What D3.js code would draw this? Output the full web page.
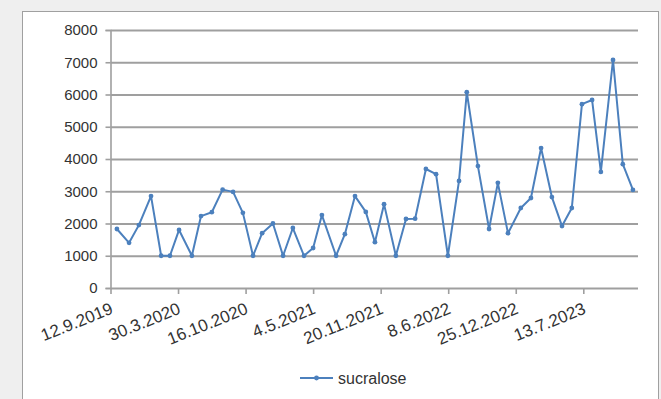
<!DOCTYPE html>
<html>
<head>
<meta charset="utf-8">
<script src="https://cdn.jsdelivr.net/npm/d3@7"></script>
<style>
  html, body { margin: 0; padding: 0; background: #efefef; }
  svg { display: block; }
</style>
</head>
<body>
<svg id="chart" width="661" height="399"></svg>
<script>
// Sampling dates (ISO) and measured sucralose levels
const sampleDates = [
  "2019-10-01","2019-11-06","2019-12-05","2020-01-10","2020-02-09","2020-03-06","2020-04-02","2020-05-10",
  "2020-06-06","2020-07-08","2020-08-09","2020-09-09","2020-10-08","2020-11-07","2020-12-04","2021-01-05",
  "2021-02-04","2021-03-05","2021-04-07","2021-05-04","2021-05-30","2021-07-11","2021-08-06","2021-09-05",
  "2021-10-07","2021-11-03","2021-11-30","2022-01-04","2022-02-03","2022-03-02","2022-04-03","2022-05-03",
  "2022-06-07","2022-07-10","2022-08-02","2022-09-04","2022-10-07","2022-11-02","2022-12-02","2023-01-09",
  "2023-02-08","2023-03-10","2023-04-11","2023-05-11","2023-06-09","2023-07-09","2023-08-08","2023-09-03",
  "2023-10-09","2023-11-07","2023-12-07"
];
const sucralose = [
  1830, 1400, 1950, 2850, 1000, 1000, 1800, 1000,
  2230, 2350, 3050, 2980, 2330, 1000, 1700, 2000,
  1000, 1860, 1000, 1240, 2260, 1000, 1670, 2850,
  2360, 1420, 2600, 1000, 2140, 2150, 3690, 3530,
  1000, 3320, 6070, 3780, 1830, 3260, 1700, 2480,
  2790, 4340, 2820, 1920, 2480, 5700, 5830, 3600,
  7070, 3840, 3040
];
const xTickLabels = ["12.9.2019","30.3.2020","16.10.2020","4.5.2021","20.11.2021","8.6.2022","25.12.2022","13.7.2023"];
const yTicks = [0, 1000, 2000, 3000, 4000, 5000, 6000, 7000, 8000];
const axisStart = "2019-09-12";
const axisEnd = "2023-12-22";
const seriesName = "sucralose";

const parseIso = d3.timeParse("%Y-%m-%d");
const parseLabel = d3.timeParse("%d.%m.%Y");
const fmtLabel = d => `${d.getDate()}.${d.getMonth() + 1}.${d.getFullYear()}`;

const data = sampleDates.map((d, i) => ({ date: parseIso(d), value: sucralose[i] }));

const svg = d3.select("#chart");
const plot = { left: 110.5, right: 638, top: 30, bottom: 288 };

const lineColor = "#4c80bd";
const gridColor = "#9f9f9f";
const textColor = "#333";
const font = "'Liberation Sans', Arial, sans-serif";

// chart area frame
svg.append("rect")
  .attr("x", 22.5).attr("y", 11.5)
  .attr("width", 636).attr("height", 400)
  .attr("fill", "#fff")
  .attr("stroke", "#a0a0a0").attr("stroke-width", 1);

const x = d3.scaleTime()
  .domain([parseIso(axisStart), parseIso(axisEnd)])
  .range([plot.left, plot.right]);
const y = d3.scaleLinear()
  .domain([0, 8000])
  .range([plot.bottom, plot.top]);

// horizontal gridlines + y axis
const yAxis = d3.axisLeft(y).tickValues(yTicks).tickSize(5).tickPadding(8).tickFormat(d3.format("d"));
const gy = svg.append("g").attr("transform", `translate(${plot.left},0)`).call(yAxis);
gy.select(".domain").attr("stroke", gridColor).attr("stroke-width", 1.6);
gy.selectAll(".tick line").attr("stroke", gridColor).attr("stroke-width", 1.6);
gy.selectAll(".tick text").attr("fill", textColor).style("font", `15px ${font}`);
gy.selectAll(".tick").append("line")
  .attr("x1", 0).attr("x2", plot.right - plot.left)
  .attr("stroke", gridColor).attr("stroke-width", 2);

// x axis with rotated date labels
const xAxis = d3.axisBottom(x)
  .tickValues(xTickLabels.map(parseLabel))
  .tickSize(6)
  .tickFormat(fmtLabel);
const gx = svg.append("g").attr("transform", `translate(0,${plot.bottom})`).call(xAxis);
gx.select(".domain").remove();
gx.selectAll(".tick line").attr("stroke", gridColor).attr("stroke-width", 1.6);
gx.selectAll(".tick text")
  .attr("fill", textColor)
  .style("font", `17px ${font}`)
  .attr("text-anchor", "end")
  .attr("y", 0).attr("dy", 0)
  .attr("transform", "translate(3,25) rotate(-22)");

// series line + markers
const line = d3.line().x(d => x(d.date)).y(d => y(d.value));
svg.append("path")
  .datum(data)
  .attr("d", line)
  .attr("fill", "none")
  .attr("stroke", lineColor)
  .attr("stroke-width", 2)
  .attr("stroke-linejoin", "round");
svg.append("g").selectAll("circle")
  .data(data)
  .join("circle")
  .attr("cx", d => x(d.date))
  .attr("cy", d => y(d.value))
  .attr("r", 2.4)
  .attr("fill", lineColor);

// legend
const lg = svg.append("g").attr("transform", "translate(300,378)");
lg.append("line").attr("x1", 0).attr("x2", 33).attr("stroke", lineColor).attr("stroke-width", 2);
lg.append("circle").attr("cx", 16.5).attr("r", 2.4).attr("fill", lineColor);
lg.append("text")
  .attr("x", 38).attr("dy", "0.35em")
  .attr("fill", textColor)
  .style("font", `16px ${font}`)
  .text(seriesName);
</script>
</body>
</html>
